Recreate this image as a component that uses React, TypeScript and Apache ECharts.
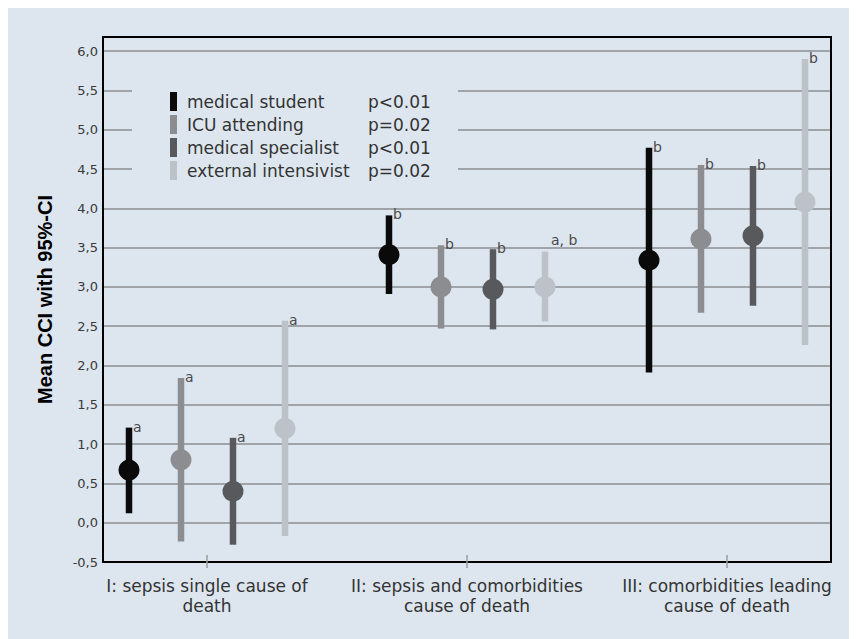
import React, { useEffect, useRef } from "react";
import * as echarts from "echarts";

// ---- data ----
const categories = [
  "I: sepsis single cause of\ndeath",
  "II: sepsis and comorbidities\ncause of death",
  "III: comorbidities leading\ncause of death",
];
const categoryPositions = [1, 2, 3];

const groupNames = [
  "medical student",
  "ICU attending",
  "medical specialist",
  "external intensivist",
];
const pValues = ["p<0.01", "p=0.02", "p<0.01", "p=0.02"];

const studentMean = [0.67, 3.41, 3.34];
const studentLow = [0.12, 2.91, 1.91];
const studentHigh = [1.21, 3.91, 4.77];
const studentLetters = ["a", "b", "b"];

const icuMean = [0.8, 3.0, 3.61];
const icuLow = [-0.24, 2.47, 2.67];
const icuHigh = [1.84, 3.53, 4.55];
const icuLetters = ["a", "b", "b"];

const specialistMean = [0.4, 2.97, 3.65];
const specialistLow = [-0.28, 2.46, 2.76];
const specialistHigh = [1.08, 3.48, 4.54];
const specialistLetters = ["a", "b", "b"];

const externalMean = [1.2, 3.0, 4.08];
const externalLow = [-0.17, 2.56, 2.26];
const externalHigh = [2.57, 3.45, 5.9];
const externalLetters = ["a", "a, b", "b"];

const yMin = -0.5;
const yMax = 6.18;
const yInterval = 0.5;

// ---- styling ----
const BG = "#dde6ef";
const groupColors = ["#0a0a0a", "#8b8d90", "#58595c", "#bdc2c8"];
const groupOffsets = [-0.3, -0.1, 0.1, 0.3];
const FONT = "'DejaVu Sans', 'Liberation Sans', Arial, sans-serif";

const groupMeans = [studentMean, icuMean, specialistMean, externalMean];
const groupLows = [studentLow, icuLow, specialistLow, externalLow];
const groupHighs = [studentHigh, icuHigh, specialistHigh, externalHigh];
const groupLetters = [studentLetters, icuLetters, specialistLetters, externalLetters];

export default function App() {
  const ref = useRef<HTMLDivElement>(null);

  useEffect(() => {
    document.documentElement.style.overflow = "hidden";
    document.body.style.overflow = "hidden";
    if (!ref.current) return;
    const chart = echarts.init(ref.current, null, { renderer: "svg" });

    const errorSeries = groupNames.map((name, gi) => ({
      name,
      type: "custom",
      itemStyle: { color: groupColors[gi] },
      encode: { x: 0, y: [1, 2, 3] },
      clip: false,
      z: 3,
      data: categoryPositions.map((p, ci) => [
        p + groupOffsets[gi],
        groupLows[gi][ci],
        groupHighs[gi][ci],
        groupMeans[gi][ci],
      ]),
      renderItem: (params: any, api: any) => {
        const x = api.value(0);
        const lo = api.coord([x, api.value(1)]);
        const hi = api.coord([x, api.value(2)]);
        const mid = api.coord([x, api.value(3)]);
        const letter = groupLetters[gi][params.dataIndex];
        const color = groupColors[gi];
        return {
          type: "group",
          children: [
            {
              type: "rect",
              shape: { x: hi[0] - 3.25, y: hi[1], width: 6.5, height: lo[1] - hi[1] },
              style: { fill: color },
            },
            {
              type: "circle",
              shape: { cx: mid[0], cy: mid[1], r: 10.5 },
              style: { fill: color },
            },
            {
              type: "text",
              x: hi[0] + (letter.length > 1 ? 6 : 4),
              y: hi[1] - (letter.length > 1 ? 12 : 1),
              style: {
                text: letter,
                fill: "#4a4a4a",
                fontSize: 14,
                fontFamily: FONT,
                align: "left",
                verticalAlign: "middle",
              },
            },
          ],
        };
      },
    }));

    const tickSeries = {
      name: "ticks",
      type: "custom",
      clip: false,
      silent: true,
      encode: { x: 0, y: 1 },
      data: categoryPositions.map((p) => [p, yMin]),
      renderItem: (_params: any, api: any) => {
        const pt = api.coord([api.value(0), api.value(1)]);
        return {
          type: "line",
          shape: { x1: pt[0], y1: pt[1] - 7, x2: pt[0], y2: pt[1] + 6 },
          style: { stroke: "#9a9da1", lineWidth: 1.5 },
        };
      },
    };

    const frameLine = { show: true, onZero: false, lineStyle: { color: "#000", width: 2 } };

    const option: any = {
      animation: false,
      backgroundColor: BG,
      grid: {
        left: 95,
        top: 29,
        width: 728,
        height: 525,
        show: true,
        borderColor: "#000",
        borderWidth: 2,
        backgroundColor: "transparent",
      },
      xAxis: [
        {
          type: "value",
          min: 0.6,
          max: 3.4,
          interval: 0.2,
          position: "bottom",
          axisLine: frameLine,
          axisTick: { show: false },
          splitLine: { show: false },
          axisLabel: {
            margin: 14,
            color: "#333",
            fontSize: 17,
            fontFamily: FONT,
            lineHeight: 20,
            align: "center",
            formatter: (v: number) => {
              const i = Math.round(v);
              if (Math.abs(v - i) < 1e-6 && i >= 1 && i <= categories.length) {
                return categories[i - 1];
              }
              return "";
            },
          },
        },
        {
          type: "value",
          min: 0.6,
          max: 3.4,
          position: "top",
          axisLine: frameLine,
          axisTick: { show: false },
          axisLabel: { show: false },
          splitLine: { show: false },
        },
      ],
      yAxis: [
        {
          type: "value",
          min: yMin,
          max: yMax,
          interval: yInterval,
          position: "left",
          name: "Mean CCI with 95%-CI",
          nameLocation: "middle",
          nameGap: 48,
          nameTextStyle: {
            fontFamily: "'Liberation Sans', Arial, sans-serif",
            fontWeight: "bold",
            fontSize: 20,
            color: "#000",
          },
          axisLine: frameLine,
          axisTick: { show: false },
          splitLine: {
            show: true,
            showMinLine: false,
            showMaxLine: false,
            lineStyle: { color: "#a0a3a7", width: 2 },
          },
          axisLabel: {
            margin: 5,
            color: "#3a3a3a",
            fontSize: 13,
            fontFamily: FONT,
            formatter: (v: number) => {
              const k = v / yInterval;
              if (Math.abs(k - Math.round(k)) > 1e-6) return "";
              return v.toFixed(1).replace(".", ",");
            },
          },
        },
        {
          type: "value",
          min: yMin,
          max: yMax,
          position: "right",
          axisLine: frameLine,
          axisTick: { show: false },
          axisLabel: { show: false },
          splitLine: { show: false },
        },
      ],
      legend: {
        data: groupNames,
        orient: "vertical",
        left: 162,
        top: 84,
        padding: 0,
        icon: "rect",
        itemWidth: 7,
        itemHeight: 19,
        itemGap: 4,
        selectedMode: false,
        formatter: (name: string) => {
          const i = groupNames.indexOf(name);
          return `{n|${name}}{p|${pValues[i]}}`;
        },
        textStyle: {
          color: "#333",
          fontSize: 17,
          fontFamily: FONT,
          rich: {
            n: { width: 181, padding: [0, 0, 0, 5], fontSize: 17, fontFamily: FONT, color: "#333" },
            p: { fontSize: 17, fontFamily: FONT, color: "#333" },
          },
        },
      },
      graphic: {
        elements: [
          {
            type: "rect",
            z: 1,
            silent: true,
            shape: { x: 124, y: 44, width: 326, height: 146 },
            style: { fill: BG },
          },
        ],
      },
      series: [...errorSeries, tickSeries],
    };

    chart.setOption(option);
    return () => chart.dispose();
  }, []);

  return <div ref={ref} style={{ width: 849, height: 631, background: BG }} />;
}
